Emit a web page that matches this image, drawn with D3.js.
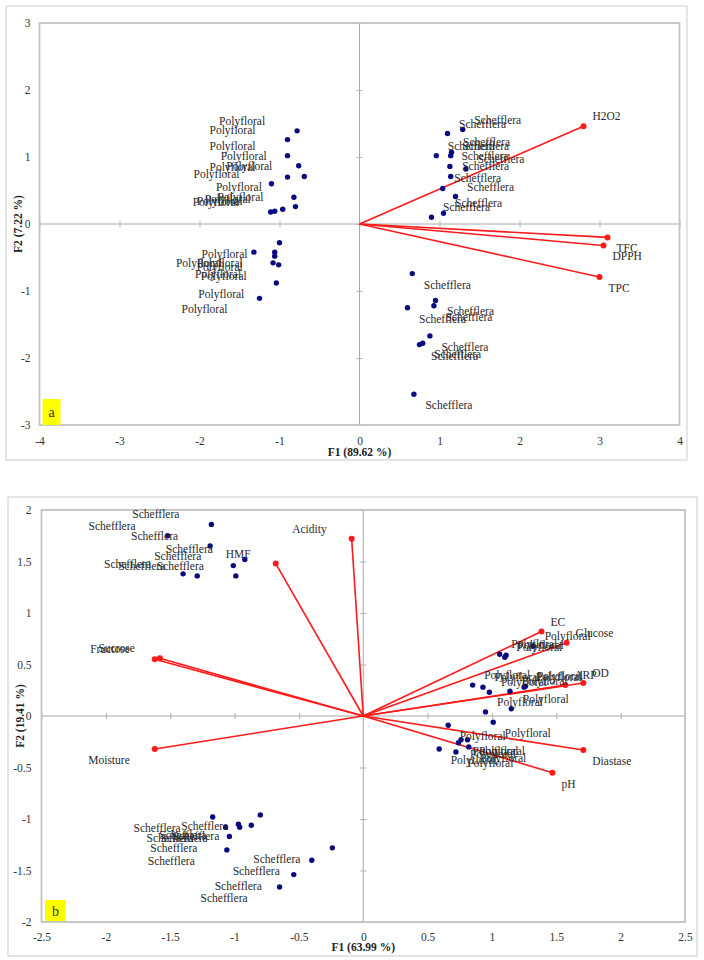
<!DOCTYPE html>
<html>
<head>
<meta charset="utf-8">
<script src="https://cdn.jsdelivr.net/npm/d3@7"></script>
<style>
  html, body { margin: 0; padding: 0; background: #fff; }
  svg { display: block; }
  text { font-family: "Liberation Serif", "Times New Roman", serif; }
</style>
</head>
<body>
<svg id="chart" width="704" height="960"></svg>
<script>
// ---------- Panel a data ----------
const polyA_F1 = [-0.78,-0.90,-0.90,-0.76,-0.90,-0.69,-1.10,-0.82,-0.80,-0.96,-1.06,-1.11,-1.00,-1.32,-1.06,-1.06,-1.08,-1.01,-1.04,-1.25];
const polyA_F2 = [1.39,1.26,1.02,0.87,0.70,0.71,0.60,0.40,0.26,0.22,0.19,0.18,-0.28,-0.42,-0.42,-0.48,-0.58,-0.61,-0.88,-1.11];
const scheffA_F1 = [1.10,1.29,1.15,1.14,0.96,1.13,1.33,1.14,1.04,1.20,1.05,0.90,0.66,0.95,0.93,0.60,0.88,0.79,0.75,0.68];
const scheffA_F2 = [1.35,1.41,1.07,1.02,1.02,0.86,0.82,0.71,0.53,0.41,0.16,0.10,-0.74,-1.14,-1.22,-1.25,-1.67,-1.78,-1.80,-2.54];
const varsA = ["H2O2","TFC","DPPH","TPC"];
const varsA_F1 = [2.80,3.10,3.05,3.00];
const varsA_F2 = [1.46,-0.20,-0.32,-0.79];
const ticksA_x = [-4,-3,-2,-1,0,1,2,3,4];
const ticksA_y = [-3,-2,-1,0,1,2,3];

// ---------- Panel b data ----------
const scheffB_F1 = [-1.18,-1.52,-1.19,-0.92,-1.01,-1.40,-1.29,-0.99,-1.17,-0.80,-1.07,-0.97,-0.96,-0.87,-1.04,-1.06,-0.24,-0.40,-0.54,-0.65];
const scheffB_F2 = [1.86,1.75,1.65,1.52,1.46,1.38,1.36,1.36,-0.98,-0.96,-1.08,-1.05,-1.08,-1.06,-1.17,-1.30,-1.28,-1.40,-1.54,-1.66];
const polyB_F1 = [1.32,1.06,1.11,1.10,0.85,0.93,0.98,1.14,1.25,1.26,1.15,0.95,1.01,0.66,0.76,0.74,0.81,0.82,0.59,0.72];
const polyB_F2 = [0.68,0.60,0.59,0.57,0.30,0.28,0.23,0.24,0.28,0.29,0.07,0.04,-0.06,-0.09,-0.23,-0.26,-0.23,-0.30,-0.32,-0.35];
const varsB = ["EC","Glucose","ARP","OD","Diastase","pH","Fructose","Sucrose","Moisture","HMF","Acidity"];
const varsB_F1 = [1.385,1.58,1.57,1.71,1.71,1.47,-1.62,-1.58,-1.62,-0.68,-0.09];
const varsB_F2 = [0.82,0.71,0.30,0.32,-0.33,-0.55,0.55,0.56,-0.32,1.48,1.72];
const ticksB_x = [-2.5,-2,-1.5,-1,-0.5,0,0.5,1,1.5,2,2.5];
const ticksB_y = [-2,-1.5,-1,-0.5,0,0.5,1,1.5,2];

const svg = d3.select("#chart");
const fmt = d => String(d);

function drawPanel(cfg) {
  const g = svg.append("g");
  const x = d3.scaleLinear().domain(cfg.xDomain).range(cfg.xRange);
  const y = d3.scaleLinear().domain(cfg.yDomain).range(cfg.yRange);

  // outer frame
  g.append("rect").attr("x", cfg.frame[0]).attr("y", cfg.frame[1])
    .attr("width", cfg.frame[2]).attr("height", cfg.frame[3])
    .attr("fill", "#fff").attr("stroke", "#d4d4d4").attr("stroke-width", 1.2);

  // zero lines
  g.append("line").attr("x1", x.range()[0]).attr("x2", x.range()[1])
    .attr("y1", y(0)).attr("y2", y(0)).attr("stroke", "#a8a8a8").attr("stroke-width", 1);
  g.append("line").attr("x1", x(0)).attr("x2", x(0))
    .attr("y1", y.range()[0]).attr("y2", y.range()[1]).attr("stroke", "#a8a8a8").attr("stroke-width", 1);

  // tick marks crossing zero lines (via axes)
  g.append("g").attr("transform", `translate(0,${y(0) - 3})`)
    .call(d3.axisBottom(x).tickValues(cfg.xTicks).tickSize(6).tickFormat(""))
    .call(a => a.select(".domain").remove())
    .call(a => a.selectAll("line").attr("stroke", "#b0b0b0"));
  g.append("g").attr("transform", `translate(${x(0) - 3},0)`)
    .call(d3.axisRight(y).tickValues(cfg.yTicks).tickSize(6).tickFormat(""))
    .call(a => a.select(".domain").remove())
    .call(a => a.selectAll("line").attr("stroke", "#b0b0b0"));

  // plot border
  g.append("rect").attr("x", x.range()[0]).attr("y", y.range()[1])
    .attr("width", x.range()[1] - x.range()[0]).attr("height", y.range()[0] - y.range()[1])
    .attr("fill", "none").attr("stroke", "#c2c2c2").attr("stroke-width", 1.8);

  // tick labels
  g.append("g").attr("transform", `translate(0,${y.range()[0]})`)
    .call(d3.axisBottom(x).tickValues(cfg.xTicks).tickSize(0).tickPadding(cfg.xPad).tickFormat(fmt))
    .call(a => a.select(".domain").remove())
    .call(a => a.selectAll("text").attr("font-family", "Liberation Serif").attr("font-size", 11.5).attr("fill", "#333"));
  g.append("g").attr("transform", `translate(${x.range()[0]},0)`)
    .call(d3.axisLeft(y).tickValues(cfg.yTicks).tickSize(0).tickPadding(cfg.yPad).tickFormat(fmt))
    .call(a => a.select(".domain").remove())
    .call(a => a.selectAll("text").attr("font-family", "Liberation Serif").attr("font-size", 11.5).attr("fill", "#333"));

  // axis titles
  g.append("text").attr("x", x(0)).attr("y", cfg.xTitleY).attr("text-anchor", "middle")
    .attr("font-size", 11.5).attr("font-weight", "bold").attr("fill", "#222").text(cfg.xTitle);
  g.append("text").attr("transform", `translate(${cfg.yTitleX},${y(0)}) rotate(-90)`)
    .attr("text-anchor", "middle").attr("font-size", 11.5).attr("font-weight", "bold")
    .attr("fill", "#222").text(cfg.yTitle);

  // vectors
  const vars = cfg.vars.map((n, i) => ({ name: n, f1: cfg.vF1[i], f2: cfg.vF2[i] }));
  g.append("g").selectAll("line").data(vars).join("line")
    .attr("x1", x(0)).attr("y1", y(0))
    .attr("x2", d => x(d.f1)).attr("y2", d => y(d.f2))
    .attr("stroke", "#ff1a1a").attr("stroke-width", 1.6);
  g.append("g").selectAll("circle").data(vars).join("circle")
    .attr("cx", d => x(d.f1)).attr("cy", d => y(d.f2)).attr("r", 3)
    .attr("fill", "#ff1a1a");

  // observations
  const obs = [];
  cfg.groups.forEach(gr => gr.f1.forEach((v, i) => obs.push({ name: gr.name, f1: v, f2: gr.f2[i] })));
  g.append("g").selectAll("circle").data(obs).join("circle")
    .attr("cx", d => x(d.f1)).attr("cy", d => y(d.f2)).attr("r", 2.7)
    .attr("fill", "#0a0a80");

  // labels
  const labelAttrs = (sel, dxPos, dxNeg) => sel
    .attr("x", d => x(d.f1) + (d.f1 >= 0 ? dxPos : dxNeg))
    .attr("y", d => y(d.f2) + (d.f2 >= 0 ? -6 : 15))
    .attr("text-anchor", d => d.f1 >= 0 ? "start" : "end")
    .attr("font-size", 11.5).attr("fill", "#2a2a2a")
    .text(d => d.name);
  g.append("g").selectAll("text").data(obs).join("text").call(labelAttrs, 11.5, -32);
  g.append("g").selectAll("text").data(vars).join("text").call(labelAttrs, 9, -25);

  // panel letter
  g.append("rect").attr("x", cfg.badge[0]).attr("y", cfg.badge[1])
    .attr("width", cfg.badge[2]).attr("height", cfg.badge[3]).attr("fill", "#ffff00");
  g.append("text").attr("x", cfg.badge[0] + cfg.badge[2] / 2).attr("y", cfg.badge[1] + cfg.badge[3] / 2 + 5)
    .attr("text-anchor", "middle").attr("font-family", "Liberation Sans, Arial, sans-serif")
    .attr("font-size", 14).attr("fill", "#333").text(cfg.letter);
}

drawPanel({
  frame: [6, 6, 681, 454],
  xDomain: [-4, 4], xRange: [39.5, 679.5],
  yDomain: [-3, 3], yRange: [425, 23],
  xTicks: ticksA_x, yTicks: ticksA_y,
  xPad: 12, yPad: 9,
  xTitle: "F1 (89.62 %)", xTitleY: 456,
  yTitle: "F2 (7.22 %)", yTitleX: 22,
  vars: varsA, vF1: varsA_F1, vF2: varsA_F2,
  groups: [
    { name: "Polyfloral", f1: polyA_F1, f2: polyA_F2 },
    { name: "Schefflera", f1: scheffA_F1, f2: scheffA_F2 }
  ],
  badge: [42.5, 399, 18, 26], letter: "a"
});

drawPanel({
  frame: [8, 497, 689, 459],
  xDomain: [-2.5, 2.5], xRange: [41.5, 685],
  yDomain: [-2, 2], yRange: [922, 510],
  xTicks: ticksB_x, yTicks: ticksB_y,
  xPad: 11, yPad: 10,
  xTitle: "F1 (63.99 %)", xTitleY: 951,
  yTitle: "F2 (19.41 %)", yTitleX: 24,
  vars: varsB, vF1: varsB_F1, vF2: varsB_F2,
  groups: [
    { name: "Schefflera", f1: scheffB_F1, f2: scheffB_F2 },
    { name: "Polyfloral", f1: polyB_F1, f2: polyB_F2 }
  ],
  badge: [45, 900, 21, 21], letter: "b"
});
</script>
</body>
</html>
